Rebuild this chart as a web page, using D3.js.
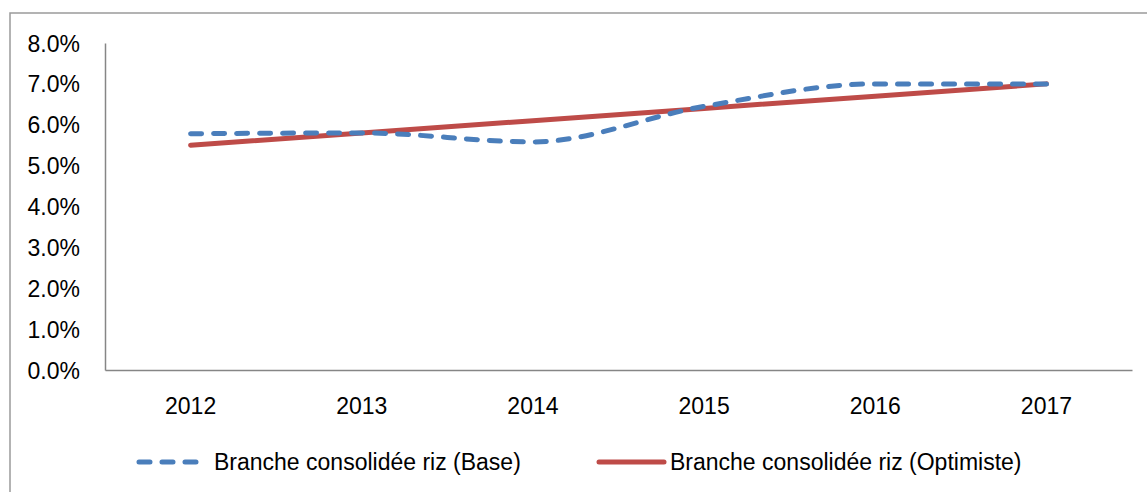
<!DOCTYPE html>
<html><head><meta charset="utf-8">
<script src="https://cdn.jsdelivr.net/npm/d3@7"></script>
<style>body{margin:0;background:#fff}svg{display:block}text{font-family:"Liberation Sans",Arial,sans-serif;fill:#000}</style>
</head><body>
<svg id="c" width="1147" height="492"></svg>
<script>
const years = ["2012","2013","2014","2015","2016","2017"];
const baseValues = [5.78, 5.80, 5.58, 6.45, 7.00, 7.00];
const optimisteValues = [5.50, 5.80, 6.10, 6.40, 6.70, 7.00];
const yTicks = [0,1,2,3,4,5,6,7,8];
const seriesNames = ["Branche consolidée riz (Base)", "Branche consolidée riz (Optimiste)"];

const svg = d3.select("#c");
const fs = 23;
svg.append("rect").attr("x",10).attr("y",13).attr("width",1160).attr("height",500)
  .attr("fill","none").attr("stroke","#9a9a9a").attr("stroke-width",1.5);

const m = {l:105, r:1132, t:43, b:370};
const x = d3.scaleBand().domain(years).range([m.l,m.r]).padding(0);
const y = d3.scaleLinear().domain([0,8]).range([m.b,m.t]);

// y axis
const ya = svg.append("g").attr("transform",`translate(${m.l},0)`)
  .call(d3.axisLeft(y).tickValues(yTicks).tickSize(0).tickFormat(d=>d3.format(".1f")(d)+"%"));
ya.select(".domain").attr("stroke","#868686").attr("stroke-width",1.5);
ya.selectAll("text").attr("x",-25).attr("font-size",fs).attr("font-family","Liberation Sans, Arial, sans-serif").attr("dy","0.35em");

// x axis
const xa = svg.append("g").attr("transform",`translate(0,${m.b})`)
  .call(d3.axisBottom(x).tickSize(0));
xa.select(".domain").attr("stroke","#868686").attr("stroke-width",1.5);
xa.selectAll("text").attr("y",44).attr("dy",0).attr("font-size",fs).attr("font-family","Liberation Sans, Arial, sans-serif");

const cx = d => x(d)+x.bandwidth()/2;
const baseLine = d3.line().x((d,i)=>cx(years[i])).y(d=>y(d)).curve(d3.curveMonotoneX);
const optLine = d3.line().x((d,i)=>cx(years[i])).y(d=>y(d));

svg.append("path").datum(optimisteValues).attr("d",optLine).attr("fill","none")
  .attr("stroke","#be4b48").attr("stroke-width",5).attr("stroke-linecap","round");
svg.append("path").datum(baseValues).attr("d",baseLine).attr("fill","none")
  .attr("stroke","#4a7ebb").attr("stroke-width",5).attr("stroke-linecap","round").attr("stroke-dasharray","11,12");

// legend
const lg = svg.append("g");
lg.append("line").attr("x1",139).attr("x2",198).attr("y1",462).attr("y2",462)
  .attr("stroke","#4a7ebb").attr("stroke-width",5).attr("stroke-linecap","round").attr("stroke-dasharray","11,12");
lg.append("text").attr("x",214).attr("y",470).attr("font-size",fs).text(seriesNames[0]);
lg.append("line").attr("x1",599).attr("x2",664).attr("y1",462).attr("y2",462)
  .attr("stroke","#be4b48").attr("stroke-width",5).attr("stroke-linecap","round");
lg.append("text").attr("x",670).attr("y",470).attr("font-size",fs).text(seriesNames[1]);
</script>
</body></html>
